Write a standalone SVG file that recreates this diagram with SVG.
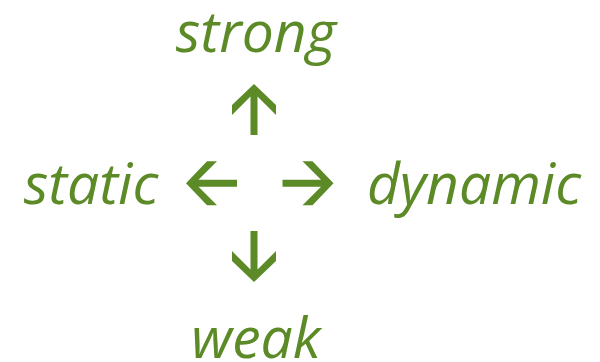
<svg xmlns="http://www.w3.org/2000/svg" width="600" height="362" viewBox="0 0 600 362">
<style>
.lbl{font-family:"Open Sans","Noto Sans",sans-serif;font-style:italic;font-size:57px;fill:#5b8a26}
.arr{fill:#5b8a26}
</style>
<defs>
<path id="arrowUp" d="M0,0 L22,21 L22,31 L3.5,12.5 L3.5,51 L-3.5,51 L-3.5,12.5 L-22,31 L-22,21 Z"/>
</defs>
<rect width="600" height="362" fill="#fff"/>
<g id="strong"><text class="lbl" x="256" y="52" text-anchor="middle">strong</text></g>
<g id="static"><text class="lbl" x="91" y="204" text-anchor="middle">static</text></g>
<g id="dynamic"><text class="lbl" x="474" y="204" text-anchor="middle">dynamic</text></g>
<g id="weak"><text class="lbl" x="256" y="358" text-anchor="middle">weak</text></g>
<g id="connectors" class="arr">
<use href="#arrowUp" transform="translate(254,84)"/>
<use href="#arrowUp" transform="translate(254,282) rotate(180)"/>
<use href="#arrowUp" transform="translate(186,183.3) rotate(-90)"/>
<use href="#arrowUp" transform="translate(333.5,183.3) rotate(90)"/>
</g>
</svg>
